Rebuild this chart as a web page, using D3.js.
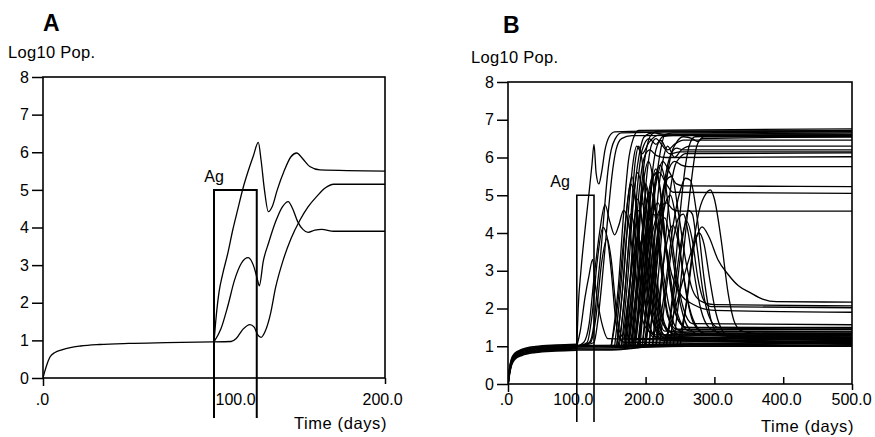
<!DOCTYPE html>
<html><head><meta charset="utf-8">
<script src="https://cdn.jsdelivr.net/npm/d3@7"></script>
<style>
body{margin:0;background:#fff}
text{font-family:"Liberation Sans",Arial,Helvetica,sans-serif;fill:#000}
</style>
</head><body>
<svg id="chart" width="875" height="437"></svg>
<script>
// ---------- tick labels ----------
const yTicks = [0,1,2,3,4,5,6,7,8];
const aXTicks = [0,100,200];
const aXLabels = [".0","100.0","200.0"];
const bXTicks = [0,100,200,300,400,500];
const bXLabels = [".0","100.0","200.0","300.0","400.0","500.0"];
const agWindow = [100,125];
const agLevel = 5;

// ---------- panel A series [time, log10 pop] ----------
const aNaive = [[0,0],[1,0.17],[2,0.32],[4,0.55],[7,0.68],[11,0.75],[16,0.81],[22,0.85],[33,0.89],[50,0.92],[72,0.94],[100,0.96]];
const aClone1 = [[100,0.96],[101,1.5],[103,2.3],[105,2.75],[108,3.3],[111,3.94],[114,4.5],[117,5.05],[120,5.5],[123,5.9],[125.9,6.26],[127.5,5.8],[129.5,5.0],[131.8,4.42],[134,4.55],[137,5.0],[141,5.5],[145,5.88],[148.3,5.98],[152,5.82],[156,5.62],[162,5.53],[200,5.5]];
const aClone2 = [[100,0.96],[104,1.3],[108,1.9],[112,2.6],[116,3.05],[120,3.2],[123,3.0],[125.5,2.6],[126.5,2.45],[128.8,3.1],[132,3.6],[136,4.15],[140,4.55],[143.4,4.69],[146,4.5],[149,4.15],[152,3.95],[155,3.87],[159,3.93],[163,3.95],[170,3.9],[200,3.9]];
const aClone3 = [[100,0.96],[110,0.97],[113,1.05],[117,1.3],[121,1.42],[123.5,1.35],[125.5,1.15],[127.5,1.08],[130,1.25],[133,1.7],[136,2.4],[140.5,3.14],[145,3.7],[150.3,4.2],[155,4.55],[160,4.82],[165,5.05],[170,5.15],[200,5.15]];

// ---------- panel B series ----------
const bNaive = [
 [[0,0],[2,0.25],[5,0.5],[10,0.66],[20,0.76],[40,0.84],[70,0.88],[100,0.9]],
 [[0,0],[2,0.28],[5,0.53],[10,0.69],[20,0.79],[40,0.87],[70,0.91],[100,0.93]],
 [[0,0],[2,0.3],[5,0.56],[10,0.72],[20,0.82],[40,0.9],[70,0.94],[100,0.96]],
 [[0,0],[2,0.32],[5,0.59],[10,0.75],[20,0.85],[40,0.93],[70,0.97],[100,0.99]],
 [[0,0],[2,0.35],[5,0.62],[10,0.78],[20,0.88],[40,0.96],[70,1.0],[100,1.02]],
 [[0,0],[2,0.37],[5,0.65],[10,0.81],[20,0.91],[40,0.99],[70,1.03],[100,1.05]]
];
const bFlat = [
 [[100,0.9],[150,0.9],[175,0.93],[200,0.98],[260,1.0],[500,1.0]],
 [[100,0.95],[160,0.96],[200,1.0],[500,1.03]],
 [[100,1.0],[170,1.0],[210,1.04],[500,1.06]],
 [[100,1.02],[180,1.03],[220,1.06],[500,1.1]],
 [[100,0.93],[155,0.92],[190,0.97],[240,1.0],[500,1.01]],
 [[100,0.98],[300,1.05],[500,1.08]]
];
const bEarly = [
 [[100,1.0],[102,2.0],[106,3.0],[112,4.1],[118,5.1],[122,5.8],[125,6.35],[128,5.6],[132,5.3],[136,5.6],[141,6.2],[147,6.55],[155,6.68],[200,6.7],[500,6.7]],
 [[100,1.0],[118,1.1],[125,1.6],[130,2.6],[135,3.5],[140,4.6],[145,5.6],[150,6.2],[156,6.5],[165,6.65],[500,6.72]],
 [[100,1.0],[125,1.1],[130,1.6],[136,2.6],[141,3.6],[146,4.6],[151,5.5],[157,6.2],[165,6.5],[180,6.58],[500,6.6]],
 [[100,1.0],[110,1.1],[118,1.6],[125,2.8],[133,4.0],[141,4.75],[148,4.3],[155,3.95],[161,4.2],[168,4.6],[175,4.3],[183,3.2],[192,2.0],[200,1.5],[215,1.3],[500,1.3]],
 [[100,1.0],[115,1.1],[122,1.8],[130,3.3],[138,4.15],[144,3.9],[150,3.0],[156,1.8],[162,1.2],[170,1.1],[500,1.15]],
 [[100,1.0],[120,1.1],[128,1.8],[136,3.2],[144,3.85],[150,3.3],[156,2.2],[162,1.4],[170,1.2],[500,1.22]],
 [[100,1.0],[105,1.4],[112,2.3],[118,2.9],[123,3.3],[127,2.6],[132,2.0],[138,1.5],[145,1.2],[500,1.1]]
];
const bHigh = [
 [[150,1.0],[160,2.5],[168,4.5],[175,5.9],[182,6.5],[190,6.72],[500,6.76]],
 [[158,1.0],[168,2.8],[176,4.8],[182,5.9],[187,6.3],[195,6.1],[205,6.4],[220,6.6],[500,6.65]],
 [[165,1.0],[175,3.0],[183,5.0],[190,6.0],[198,6.55],[210,6.65],[230,6.62],[500,6.62]],
 [[170,1.0],[180,3.2],[188,5.2],[195,6.2],[205,6.5],[215,6.35],[225,6.55],[240,6.58],[500,6.58]],
 [[175,1.0],[185,3.0],[193,5.0],[200,6.1],[208,6.6],[218,6.7],[500,6.7]],
 [[182,1.0],[192,3.2],[200,5.2],[208,6.3],[215,6.5],[225,6.3],[235,6.1],[250,6.15],[500,6.15]],
 [[190,1.0],[200,3.5],[208,5.3],[215,6.2],[222,6.45],[232,6.2],[242,6.35],[255,6.46],[500,6.46]],
 [[195,1.0],[205,3.0],[212,4.8],[220,6.0],[228,6.6],[240,6.65],[500,6.68]],
 [[200,1.0],[210,3.0],[218,5.0],[225,5.9],[232,6.3],[242,6.0],[252,6.2],[265,6.3],[500,6.3]],
 [[210,1.0],[220,3.2],[228,5.0],[236,6.0],[245,6.4],[255,6.55],[268,6.5],[276,6.42],[284,6.55],[500,6.55]],
 [[240,1.0],[250,2.5],[258,4.0],[266,5.3],[273,6.2],[278,6.45],[282,6.5],[500,6.55]],
 [[230,1.0],[240,2.5],[250,4.5],[258,5.8],[265,6.4],[272,6.55],[500,6.6]]
];
const bMid = [
 [[185,1.0],[195,2.5],[205,4.0],[215,5.3],[225,5.9],[235,5.6],[245,5.3],[255,5.25],[500,5.23]],
 [[180,1.0],[190,2.8],[200,4.5],[210,5.5],[220,5.6],[230,5.3],[240,5.08],[500,5.05]],
 [[190,1.0],[200,2.5],[210,4.0],[220,4.6],[230,4.8],[240,4.62],[250,4.58],[500,4.58]],
 [[200,1.0],[212,3.0],[222,4.8],[232,5.6],[242,5.9],[252,5.8],[262,5.76],[500,5.76]],
 [[172,1.0],[182,3.0],[190,5.0],[198,6.0],[206,6.2],[216,6.05],[230,6.0],[500,6.02]],
 [[205,1.0],[215,3.0],[225,5.0],[235,6.0],[245,6.25],[255,6.2],[500,6.2]],
 [[215,1.0],[225,3.0],[235,5.0],[243,5.8],[250,6.0],[258,6.1],[500,6.12]]
];
const bLow = [
 [[215,1.0],[228,2.5],[240,4.2],[250,5.1],[258,5.45],[265,5.4],[275,4.4],[285,2.8],[295,1.7],[305,1.35],[320,1.28],[500,1.27]],
 [[245,1.0],[258,2.0],[268,3.5],[278,4.6],[288,5.05],[294,5.14],[300,4.9],[310,3.8],[320,2.4],[330,1.6],[340,1.4],[360,1.35],[500,1.35]],
 [[225,1.0],[240,1.8],[255,2.8],[270,3.7],[282,4.16],[292,3.9],[305,3.3],[320,2.9],[335,2.6],[352,2.42],[370,2.25],[390,2.18],[500,2.17]],
 [[200,1.0],[212,2.8],[222,4.5],[230,5.4],[238,5.5],[248,4.5],[258,3.3],[268,2.5],[280,2.2],[300,2.1],[500,2.07]],
 [[230,1.0],[242,2.5],[252,3.8],[260,4.3],[268,3.8],[276,2.8],[285,2.2],[295,2.05],[500,2.02]],
 [[195,1.0],[205,2.5],[213,4.0],[220,4.5],[228,3.8],[238,2.9],[250,2.4],[270,2.1],[300,1.95],[500,1.9]],
 [[150,1.0],[160,2.2],[168,3.8],[175,5.0],[180,5.5],[186,4.8],[193,3.2],[200,2.0],[208,1.4],[220,1.2],[500,1.18]],
 [[155,1.0],[165,2.8],[172,4.5],[178,5.3],[184,5.0],[190,4.0],[197,2.6],[205,1.6],[215,1.25],[500,1.15]],
 [[160,1.0],[168,2.0],[176,3.8],[183,5.0],[188,5.6],[194,5.2],[200,4.0],[207,2.6],[215,1.7],[225,1.3],[500,1.3]],
 [[162,1.0],[170,2.5],[178,4.3],[185,5.9],[190,6.3],[195,5.9],[202,4.5],[210,3.0],[218,1.9],[228,1.4],[500,1.4]],
 [[168,1.0],[176,2.5],[184,4.0],[190,4.6],[196,4.2],[203,3.0],[210,2.0],[218,1.4],[230,1.2],[500,1.12]],
 [[170,1.0],[178,2.2],[186,3.6],[194,4.9],[200,5.3],[206,4.8],[212,3.6],[220,2.3],[230,1.5],[245,1.3],[500,1.28]],
 [[174,1.0],[182,2.6],[190,4.2],[198,5.5],[204,5.9],[210,5.5],[216,4.3],[224,2.8],[232,1.8],[245,1.45],[500,1.45]],
 [[178,1.0],[186,2.3],[194,3.8],[202,4.9],[208,5.1],[214,4.6],[221,3.4],[229,2.2],[238,1.5],[250,1.3],[500,1.22]],
 [[182,1.0],[190,2.0],[198,3.5],[206,4.4],[212,4.5],[219,3.9],[227,2.8],[236,1.9],[246,1.45],[260,1.35],[500,1.33]],
 [[185,1.0],[193,2.5],[201,4.2],[208,5.2],[215,5.6],[222,5.0],[230,3.6],[238,2.4],[247,1.7],[260,1.5],[500,1.5]],
 [[188,1.0],[196,2.2],[204,3.6],[212,4.6],[218,4.8],[225,4.3],[233,3.2],[242,2.2],[252,1.6],[265,1.4],[500,1.38]],
 [[192,1.0],[200,2.8],[208,4.5],[215,5.5],[221,5.8],[228,5.4],[236,4.2],[245,2.9],[255,2.0],[268,1.6],[500,1.57]],
 [[165,1.0],[173,2.0],[181,3.2],[188,3.9],[194,3.6],[200,2.7],[207,1.9],[215,1.4],[225,1.15],[500,1.08]],
 [[198,1.0],[206,2.2],[214,3.5],[222,4.3],[228,4.4],[235,3.9],[243,2.9],[252,2.0],[262,1.5],[280,1.3],[500,1.25]],
 [[205,1.0],[213,2.5],[221,3.9],[229,4.8],[236,5.0],[243,4.5],[251,3.4],[260,2.3],[270,1.6],[285,1.35],[500,1.3]],
 [[210,1.0],[218,2.0],[226,3.2],[234,4.0],[240,4.2],[247,3.8],[255,2.9],[264,2.0],[275,1.5],[290,1.3],[500,1.22]],
 [[220,1.0],[230,2.5],[240,3.8],[248,4.4],[255,4.5],[262,4.0],[270,3.0],[280,2.0],[292,1.5],[310,1.35],[500,1.33]],
 [[235,1.0],[245,2.5],[255,4.0],[262,4.6],[268,4.5],[275,3.6],[283,2.5],[292,1.8],[305,1.5],[500,1.48]],
 [[175,1.0],[183,2.0],[191,3.0],[198,3.5],[204,3.3],[210,2.6],[218,1.8],[226,1.3],[500,1.05]],
 [[250,1.0],[260,2.2],[270,3.6],[278,4.0],[285,3.7],[293,2.8],[302,1.9],[312,1.4],[325,1.22],[500,1.2]],
 [[176,1.0],[183,2.5],[189,4.0],[194,4.8],[199,4.6],[205,3.5],[212,2.2],[220,1.5],[232,1.25],[500,1.2]],
 [[180,1.0],[187,2.8],[193,4.6],[198,5.3],[203,5.0],[209,3.8],[216,2.4],[225,1.6],[240,1.35],[500,1.35]],
 [[184,1.0],[190,2.2],[196,3.5],[202,4.1],[208,3.8],[214,2.8],[222,1.9],[232,1.4],[500,1.15]],
 [[170,1.0],[177,2.6],[183,4.2],[188,4.9],[193,4.6],[199,3.4],[206,2.2],[214,1.5],[225,1.25],[500,1.22]],
 [[190,1.0],[197,2.6],[204,4.3],[210,5.4],[215,5.7],[221,5.2],[228,3.9],[236,2.6],[245,1.8],[258,1.5],[500,1.45]],
 [[158,1.0],[166,2.4],[173,4.0],[178,4.5],[184,4.1],[190,3.0],[197,2.0],[205,1.4],[215,1.2],[500,1.1]]
];

// ---------- drawing ----------
const svg = d3.select("#chart");

function drawPanel(cfg) {
  const x = d3.scaleLinear().domain([0, cfg.xMax]).range([cfg.x0, cfg.x1]);
  const y = d3.scaleLinear().domain([0, 8]).range([cfg.yb, cfg.yt]);
  const g = svg.append("g");

  const clipId = "clip" + cfg.id;
  svg.append("clipPath").attr("id", clipId).append("rect")
    .attr("x", cfg.x0).attr("y", cfg.yt).attr("width", cfg.x1 - cfg.x0).attr("height", cfg.yb - cfg.yt);

  const line = d3.line().x(d => x(d[0])).y(d => y(d[1])).curve(d3.curveMonotoneX);
  const cg = g.append("g").attr("clip-path", `url(#${clipId})`);
  cfg.groups.forEach(gr => {
    cg.selectAll(null).data(gr.data).enter().append("path")
      .attr("d", line).attr("fill", "none").attr("stroke", "#000")
      .attr("stroke-width", gr.w).attr("stroke-linejoin", "round");
  });

  g.append("rect").attr("x", cfg.x0).attr("y", cfg.yt)
    .attr("width", cfg.x1 - cfg.x0).attr("height", cfg.yb - cfg.yt)
    .attr("fill", "none").attr("stroke", "#000").attr("stroke-width", 1.6);

  const ya = g.append("g").attr("transform", `translate(${cfg.x0},0)`)
    .call(d3.axisLeft(y).tickValues(yTicks).tickSize(11).tickPadding(3).tickFormat(d3.format("d")));
  ya.select(".domain").remove();
  ya.selectAll("line").attr("stroke", "#000").attr("stroke-width", 1.5);
  ya.selectAll("text").attr("font-size", 16).attr("font-family", "Liberation Sans, Arial, sans-serif").attr("fill", "#000");

  const xa = g.append("g").attr("transform", `translate(0,${cfg.yb})`)
    .call(d3.axisBottom(x).tickValues(cfg.ticks).tickFormat((d, i) => cfg.labels[i]));
  xa.select(".domain").remove();
  xa.selectAll(".tick line").attr("stroke", "#000").attr("stroke-width", 1.5)
    .attr("y2", d => cfg.tickLen(d));
  xa.selectAll(".tick text").attr("font-size", 16).attr("font-family", "Liberation Sans, Arial, sans-serif")
    .attr("fill", "#000").attr("dy", 0).attr("y", cfg.labelY)
    .attr("text-anchor", d => cfg.labelAnchor(d)).attr("dx", d => cfg.labelDx(d));

  const agPath = d3.path();
  agPath.moveTo(x(agWindow[0]), cfg.yb + cfg.agDrop);
  agPath.lineTo(x(agWindow[0]), y(agLevel));
  agPath.lineTo(x(agWindow[1]), y(agLevel));
  agPath.lineTo(x(agWindow[1]), cfg.yb + cfg.agDrop);
  g.append("path").attr("d", agPath.toString()).attr("fill", "none")
    .attr("stroke", "#000").attr("stroke-width", cfg.agW);
  g.append("text").attr("x", x(agWindow[0]) + cfg.agLabelDx).attr("y", y(agLevel) - 8)
    .attr("text-anchor", cfg.agAnchor).attr("font-size", 16).text("Ag");

  g.append("text").attr("x", cfg.letterX).attr("y", cfg.letterY).attr("font-size", 23)
    .attr("font-weight", "bold").text(cfg.letter);
  g.append("text").attr("x", cfg.ylabX).attr("y", cfg.ylabY).attr("font-size", 16.5)
    .attr("letter-spacing", 0.3).text("Log10 Pop.");
  g.append("text").attr("x", cfg.x1 + 2).attr("y", cfg.xlabY).attr("text-anchor", "end")
    .attr("font-size", 16.5).attr("letter-spacing", 0.6).text("Time (days)");
}

drawPanel({
  id: "A", xMax: 200, x0: 43, x1: 385, yb: 378, yt: 77,
  ticks: aXTicks, labels: aXLabels,
  tickLen: d => d === 0 ? 8 : (d === 200 ? 6 : 0),
  labelY: 27,
  labelAnchor: d => d === 100 ? "start" : "middle",
  labelDx: d => d === 100 ? 1 : (d === 200 ? -3 : -1),
  agDrop: 40, agW: 2, agLabelDx: 0, agAnchor: "middle",
  letter: "A", letterX: 43, letterY: 31, ylabX: 8, ylabY: 58, xlabY: 429,
  groups: [{ data: [aNaive, aClone1, aClone2, aClone3], w: 1.3 }]
});

drawPanel({
  id: "B", xMax: 500, x0: 508, x1: 852, yb: 384, yt: 82,
  ticks: bXTicks, labels: bXLabels,
  tickLen: d => d === 0 ? 8 : (d === 500 ? 6 : (d === 100 ? 0 : -7)),
  labelY: 21,
  labelAnchor: d => "middle",
  labelDx: d => d === 100 ? -4 : (d === 500 ? -1 : -2),
  agDrop: 38, agW: 1.6, agLabelDx: -7, agAnchor: "end",
  letter: "B", letterX: 503, letterY: 33, ylabX: 471, ylabY: 63, xlabY: 432,
  groups: [
    { data: bNaive, w: 1.8 },
    { data: bFlat, w: 1.4 },
    { data: bEarly, w: 1.3 },
    { data: bHigh, w: 1.3 },
    { data: bMid, w: 1.3 },
    { data: bLow, w: 1.3 }
  ]
});
</script>
</body></html>
